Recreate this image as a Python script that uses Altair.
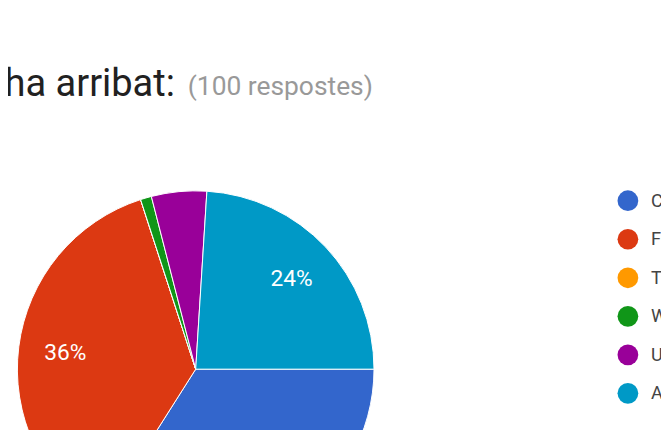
import math
import altair as alt
import pandas as pd

categories = ["Correu electrònic", "Facebook", "Twitter", "WhatsApp", "Un amic", "Altres"]
values = [34, 36, 0, 1, 5, 24]
colors = ["#3366CC", "#DC3912", "#FF9900", "#109618", "#990099", "#0099C6"]
title_text = ["L'enquesta t'ha arribat:"]
subtitle_text = ["(100 respostes)"]

df = pd.DataFrame({"cat": categories, "val": values, "order": list(range(len(categories)))})
df["label"] = [f"{v}%" if v >= 10 else "" for v in values]

theta_scale = alt.Scale(range=[math.pi / 2, math.pi / 2 + 2 * math.pi])

base = alt.Chart(df).encode(
    theta=alt.Theta("val:Q", stack=True, scale=theta_scale),
    order=alt.Order("order:Q", sort="ascending"),
)

pie = base.mark_arc(outerRadius=180.5, stroke="white", strokeWidth=1).encode(
    x=alt.value(190),
    y=alt.value(363),
    color=alt.Color(
        "cat:N",
        scale=alt.Scale(domain=categories, range=colors),
        sort=categories,
        legend=alt.Legend(
            orient="none",
            legendX=617,
            legendY=182,
            title=None,
            symbolType="circle",
            symbolSize=441,
            symbolStrokeWidth=0,
            symbolOpacity=1,
            labelFontSize=18.5,
            labelFont="Roboto",
            labelColor="#444444",
            labelOffset=13,
            rowPadding=18,
            padding=0,
            labelLimit=300,
        ),
    ),
)

labels = base.mark_text(
    radius=133, fontSize=23, font="Roboto", color="white", align="center", baseline="middle"
).encode(
    x=alt.value(190),
    y=alt.value(363),
    detail="cat:N",
    text="label:N",
)

title = alt.Chart(pd.DataFrame({"t": title_text})).mark_text(
    align="right", baseline="alphabetic", fontSize=38.5, font="Roboto", color="#212121"
).encode(x=alt.value(169), y=alt.value(86), text="t:N")

subtitle = alt.Chart(pd.DataFrame({"t": subtitle_text})).mark_text(
    align="left", baseline="alphabetic", fontSize=26.7, font="Roboto", color="#999999"
).encode(x=alt.value(182), y=alt.value(85), text="t:N")

chart = alt.layer(pie, labels, title, subtitle).properties(
    width=661,
    height=422,
    padding=0,
    autosize=alt.AutoSizeParams(type="none"),
    background="white",
).configure_view(stroke=None)

chart.save("out.html", embed_options={"renderer": "svg", "actions": False})
